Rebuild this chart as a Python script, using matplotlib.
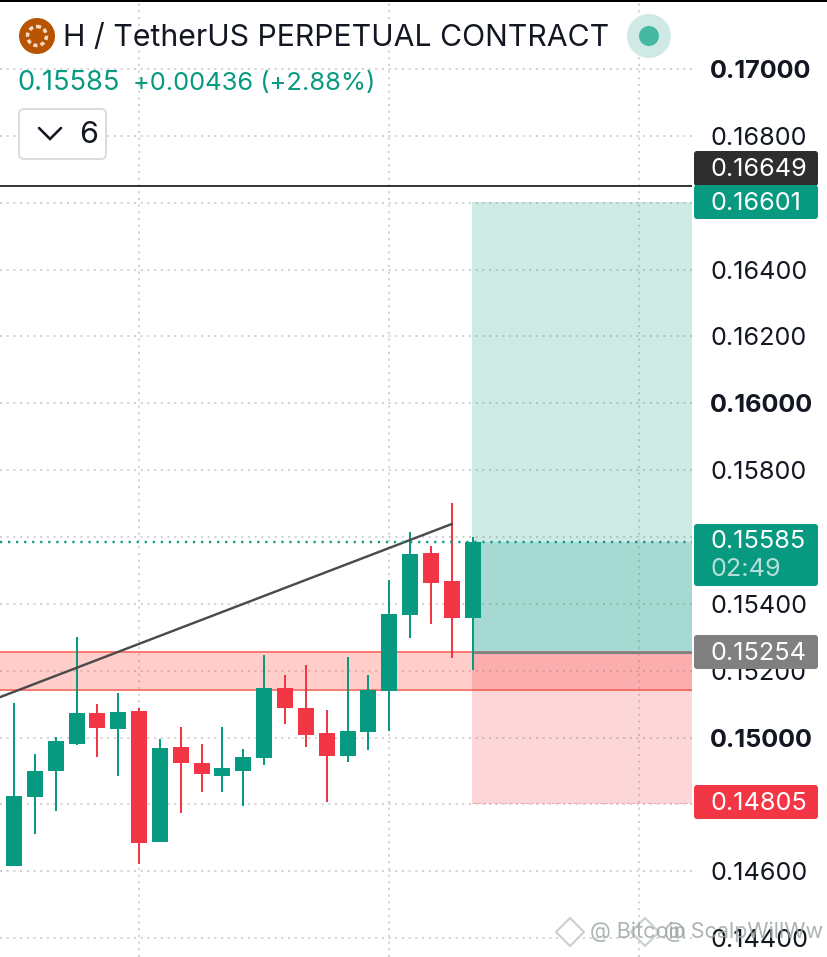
import matplotlib
matplotlib.use('Agg')
import matplotlib.pyplot as plt
import numpy as np
from matplotlib.patches import Circle, FancyBboxPatch

plt.rcParams['font.family'] = ['Inter', 'DejaVu Sans']

# Candle data
opens = [0.14616, 0.14822, 0.14900, 0.14981, 0.15074, 0.15026, 0.15080, 0.14688, 0.14972, 0.14924, 0.14885, 0.14900,
         0.14939, 0.15148, 0.15089, 0.15014, 0.14945, 0.15017, 0.15139, 0.15367, 0.15552, 0.15468, 0.15358]
highs = [0.15104, 0.14951, 0.15002, 0.15301, 0.15101, 0.15133, 0.15089, 0.14996, 0.15032, 0.14981, 0.15032, 0.14966,
         0.15247, 0.15187, 0.15217, 0.15083, 0.15241, 0.15187, 0.15471, 0.15615, 0.15573, 0.15702, 0.15600]
lows = [0.14616, 0.14712, 0.14780, 0.14978, 0.14942, 0.14885, 0.14622, 0.14688, 0.14774, 0.14837, 0.14837, 0.14795,
        0.14918, 0.15041, 0.14972, 0.14807, 0.14927, 0.14963, 0.15020, 0.15298, 0.15340, 0.15238, 0.15202]
closes = [0.14825, 0.14900, 0.14990, 0.15074, 0.15029, 0.15077, 0.14685, 0.14969, 0.14924, 0.14891, 0.14909, 0.14942,
          0.15148, 0.15089, 0.15008, 0.14945, 0.15020, 0.15142, 0.15370, 0.15549, 0.15462, 0.15358, 0.15585]

price_ticks = [0.144, 0.146, 0.148, 0.150, 0.152, 0.154, 0.156, 0.158, 0.160, 0.162, 0.164, 0.166, 0.168, 0.170]
bold_ticks = [0.150, 0.160, 0.170]
hidden_ticks = [0.148, 0.156, 0.166]  # covered by the price tags
time_ticks = [6, 18, 30]

last_price = 0.15585
target = 0.16601
entry = 0.15254
stop = 0.14805
top_line = 0.16649
zone_top = 0.15256
zone_bottom = 0.15142
trend_x = [-0.67, 21]
trend_y = [0.15121, 0.15639]

GREEN = '#089981'
RED = '#F23645'
px = 0.72  # one pixel in points at dpi 100

fig = plt.figure(figsize=(8.27, 9.57), dpi=100, facecolor='white')
ax = fig.add_axes([0, 0, 692 / 827, 1])
ax.set_xlim(-0.671, 32.52)
ax.set_ylim(0.143437, 0.172064)
for s in ax.spines.values():
    s.set_visible(False)

# grid
ax.set_xticks(time_ticks)
ax.set_xticklabels([])
ax.yaxis.tick_right()
ax.set_yticks(price_ticks)
ax.set_yticklabels(['' if t in hidden_ticks else '%.5f' % t for t in price_ticks], fontsize=18.2, color='#131722')
ax.tick_params(axis='both', length=0)
ax.tick_params(axis='y', pad=13)
for t, lab in zip(price_ticks, ax.get_yticklabels()):
    if t in bold_ticks:
        lab.set_fontweight('bold')
ax.set_axisbelow(True)
ax.grid(True, color='#d2d2d2', lw=2 * px, linestyle=(0, (1, 2.35)))

# position boxes and support zone
ax.axhspan(zone_bottom, zone_top, color='#ff5a50', alpha=0.3, lw=0, zorder=1)
ax.axhline(zone_top, color='#f87c73', lw=2 * px, zorder=1.2)
ax.axhline(zone_bottom, color='#f87c73', lw=2 * px, zorder=1.2)
xmax = ax.get_xlim()[1]
box_x = 21.95
ax.fill_between([box_x, xmax], entry, target, color=GREEN, alpha=0.2, lw=0, zorder=1.5)
ax.fill_between([box_x, xmax], entry, last_price, color=GREEN, alpha=0.2, lw=0, zorder=1.5)
ax.fill_between([box_x, xmax], stop, entry, color=RED, alpha=0.2, lw=0, zorder=1.5)
ax.plot([box_x, xmax], [entry, entry], color='#808080', lw=2 * px, zorder=1.6, solid_capstyle='butt')
ax.plot([box_x, xmax], [stop, stop], color='#f8a5ac', lw=1 * px, ls='--', zorder=1.6)

ax.axhline(top_line, color='#222222', lw=1.8 * px, zorder=2)

# candles
idx = np.arange(len(opens))
o = np.array(opens)
c = np.array(closes)
colors = [GREEN if b >= a else RED for a, b in zip(opens, closes)]
ax.vlines(idx, lows, highs, colors=colors, lw=2 * px, zorder=3)
ax.bar(idx, np.abs(c - o), bottom=np.minimum(o, c), width=0.767, color=colors, lw=0, zorder=3.1)

# small grey handle behind last candle
ax.plot([21.75, 22, 22.25], [0.15490, 0.15530, 0.15490], color='#888888', lw=1.5 * px, zorder=2.5)

ax.plot(trend_x, trend_y, color='#4a4a4a', lw=2.4 * px, zorder=4, solid_capstyle='round')
ax.axhline(last_price, color=GREEN, lw=2.4 * px, linestyle=(0, (0.9, 2.45)), zorder=4)

# overlay in pixel coordinates for header and price tags
ov = fig.add_axes([0, 0, 1, 1], facecolor='none', zorder=5)
ov.set_xlim(0, 827)
ov.set_ylim(957, 0)
ov.axis('off')

ov.plot([0, 827], [0.8, 0.8], color='#000000', lw=2 * px)


def tag(y0, y1, color, text):
    ov.add_patch(FancyBboxPatch((694, y0), 124, y1 - y0, boxstyle='round,pad=0,rounding_size=3',
                                fc=color, ec='none'))
    if text:
        ov.text(711, (y0 + y1) / 2 + 1.5, text, color='white', fontsize=18.2, va='center', ha='left')


tag(151, 186, '#2e2e2e', '%.5f' % top_line)
tag(185, 219, GREEN, '%.5f' % target)
tag(524, 586, GREEN, '')
ov.text(711, 542, '%.5f' % last_price, color='white', fontsize=18.2, va='center')
ov.text(711, 570, '02:49', color='#b5e0d8', fontsize=18.2, va='center')
tag(635, 669, '#808080', '%.5f' % entry)
tag(785, 819, RED, '%.5f' % stop)

# header
ov.add_patch(Circle((37, 36), 18, fc='#b85300', ec='none'))
ov.add_patch(Circle((37, 36), 9.5, fc='none', ec='#f6dcc8', lw=3.5 * px, ls=(0, (1.2, 0.9))))
ov.text(63, 38, 'H / TetherUS PERPETUAL CONTRACT', fontsize=21.75, color='#131722', va='center')
ov.text(17, 83.5, '0.15585', fontsize=19.6, color=GREEN, va='center')
ov.text(133, 83.5, '+0.00436 (+2.88%)', fontsize=18.4, color=GREEN, va='center')
ov.add_patch(Circle((649, 36), 22, fc='#cfeae5', ec='none'))
ov.add_patch(Circle((649, 36), 10, fc='#45b8a2', ec='none'))

ov.add_patch(FancyBboxPatch((19, 109), 87, 50, boxstyle='round,pad=0,rounding_size=5',
                            fc='white', ec='#dcdcdc', lw=2 * px))
ov.plot([39, 50, 61], [128, 139, 128], color='#131722', lw=2.6 * px, solid_capstyle='round', solid_joinstyle='miter')
ov.text(89, 135, '6', fontsize=22, color='#131722', va='center', ha='center')

# watermark
for wx in [570, 645]:
    ov.plot([wx], [932], marker='D', ms=14, mfc='#ffffff', mec='#c4cac8', mew=1.5, alpha=0.9)
ov.text(590, 932, '@ Bitcoin', fontsize=15.5, color='#9ea8a5', alpha=0.85, va='center')
ov.text(664, 932, '@ ScalpWillWw', fontsize=15.5, color='#9ea8a5', alpha=0.85, va='center')

fig.savefig('out.png', dpi=100)
